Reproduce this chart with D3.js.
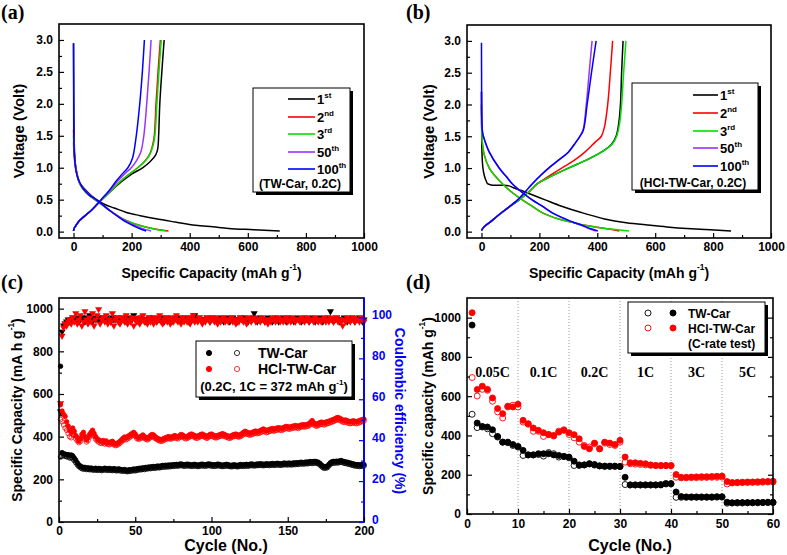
<!DOCTYPE html>
<html><head><meta charset="utf-8">
<script src="https://cdn.jsdelivr.net/npm/d3@7"></script>
<style>body{margin:0;background:#fff}svg{display:block}</style>
</head><body>
<svg id="chart" width="787" height="555"></svg>
<script>
// ---------------- DATA ----------------
// Panel (a): TW-Car galvanostatic curves [capacity mAh/g, voltage V]
const cycleNames = ["1","2","3","50","100"];
const cycleSup = ["st","nd","rd","th","th"];
const cycleColors = ["#000000","#ff0000","#00e000","#9933ff","#0000ff"];

const aDis1 = [[0,2.95],[0.5,2.5],[1,2.0],[2,1.5],[4,1.2],[8,1.0],[15,0.85],[22,0.76],[40,0.66],[65,0.55],[90,0.47],[110,0.42],[140,0.37],[182,0.3],[230,0.25],[284,0.2],[350,0.15],[420,0.1],[480,0.075],[534,0.05],[620,0.03],[710,0.01]];
const aDis2 = [[0,1.6],[2,1.3],[5,1.1],[10,0.95],[17,0.8],[30,0.68],[50,0.58],[74,0.5],[95,0.43],[125,0.33],[170,0.2],[200,0.14],[227,0.1],[260,0.06],[295,0.03],[327,0.01]];
const aDis3 = [[0,1.5],[2,1.25],[5,1.08],[10,0.94],[17,0.8],[30,0.68],[50,0.58],[74,0.5],[95,0.43],[125,0.33],[170,0.2],[200,0.14],[225,0.1],[258,0.06],[290,0.03],[318,0.01]];
const aDis50 = [[0,1.4],[2,1.2],[5,1.05],[10,0.92],[18,0.8],[30,0.7],[50,0.6],[76,0.5],[97,0.43],[125,0.33],[160,0.22],[190,0.14],[210,0.1],[235,0.05],[267,0.01]];
const aDis100 = [[0,2.95],[0.5,2.0],[1,1.5],[3,1.2],[7,1.0],[12,0.88],[20,0.78],[32,0.68],[52,0.58],[78,0.5],[98,0.43],[125,0.33],[158,0.22],[185,0.14],[203,0.1],[225,0.05],[250,0.01]];
const aCha1 = [[0,0.01],[2,0.05],[9,0.1],[20,0.17],[40,0.25],[65,0.35],[97,0.5],[130,0.64],[165,0.78],[200,0.9],[239,1.0],[265,1.1],[283,1.2],[290,1.3],[293,1.5],[297,2.0],[304,2.5],[312,3.0]];
const aCha2 = [[0,0.01],[2,0.05],[9,0.1],[20,0.17],[40,0.25],[65,0.35],[97,0.5],[130,0.64],[160,0.78],[192,0.9],[221,1.0],[245,1.1],[261,1.2],[272,1.35],[278,1.5],[284,2.0],[291,2.5],[299,3.0]];
const aCha3 = [[0,0.01],[2,0.05],[9,0.1],[20,0.17],[40,0.25],[65,0.35],[97,0.5],[130,0.64],[160,0.78],[192,0.9],[221,1.0],[246,1.1],[262,1.2],[274,1.35],[280,1.5],[287,2.0],[294,2.5],[302,3.0]];
const aCha50 = [[0,0.01],[2,0.05],[9,0.1],[20,0.17],[40,0.25],[65,0.35],[95,0.5],[125,0.64],[150,0.78],[175,0.9],[199,1.0],[218,1.12],[232,1.25],[242,1.5],[252,2.0],[260,2.5],[267,3.0]];
const aCha100 = [[0,0.01],[2,0.05],[9,0.1],[20,0.17],[40,0.25],[65,0.35],[95,0.5],[122,0.64],[145,0.78],[167,0.9],[187,1.0],[203,1.15],[216,1.5],[228,2.0],[237,2.5],[244,3.0]];

// Panel (b): HCl-TW-Car galvanostatic curves
const bDis1 = [[0,2.2],[0.5,1.8],[1,1.4],[2,1.2],[5,1.0],[10,0.88],[16,0.8],[22,0.75],[40,0.73],[70,0.73],[95,0.72],[110,0.69],[135,0.65],[164,0.6],[220,0.5],[277,0.4],[345,0.3],[425,0.2],[500,0.14],[584,0.1],[650,0.07],[709,0.05],[790,0.03],[862,0.01]];
const bDis2 = [[0,2.0],[1,1.6],[3,1.4],[10,1.2],[27,1.0],[48,0.87],[73,0.75],[105,0.62],[141,0.5],[175,0.4],[209,0.3],[266,0.2],[310,0.15],[357,0.1],[400,0.07],[440,0.04],[476,0.01]];
const bDis3 = [[0,2.0],[1,1.6],[3,1.4],[10,1.2],[27,1.0],[48,0.87],[73,0.75],[105,0.62],[141,0.5],[175,0.4],[209,0.3],[266,0.2],[310,0.15],[357,0.1],[425,0.05],[470,0.03],[510,0.01]];
const bDis50 = [[0,2.2],[1,1.8],[4,1.55],[10,1.45],[27,1.25],[61,1.0],[85,0.87],[107,0.75],[140,0.62],[175,0.5],[210,0.4],[243,0.3],[289,0.2],[320,0.14],[345,0.1],[370,0.05],[395,0.01]];
const bDis100 = [[0,2.97],[0.5,2.2],[1,1.8],[4,1.55],[10,1.45],[27,1.25],[61,1.0],[85,0.87],[107,0.75],[140,0.62],[175,0.5],[210,0.4],[243,0.3],[289,0.2],[322,0.14],[348,0.1],[375,0.05],[402,0.01]];
const bCha1 = [[0,0.02],[10,0.08],[30,0.15],[56,0.25],[90,0.37],[130,0.5],[162,0.62],[192,0.75],[245,0.88],[300,1.0],[360,1.12],[414,1.25],[450,1.38],[465,1.5],[474,1.7],[480,2.0],[484,2.5],[489,3.0]];
const bCha2 = [[0,0.02],[10,0.08],[30,0.15],[56,0.25],[90,0.37],[130,0.5],[162,0.62],[192,0.75],[235,0.88],[277,1.0],[320,1.12],[357,1.25],[391,1.4],[414,1.5],[425,1.65],[436,2.0],[445,2.5],[453,3.0]];
const bCha3 = [[0,0.02],[10,0.08],[30,0.15],[56,0.25],[90,0.37],[130,0.5],[162,0.62],[192,0.75],[245,0.88],[300,1.0],[360,1.12],[414,1.25],[452,1.38],[467,1.5],[477,1.7],[484,2.0],[491,2.5],[499,3.0]];
const bCha50 = [[0,0.02],[10,0.08],[30,0.15],[56,0.25],[90,0.37],[125,0.5],[150,0.62],[175,0.75],[203,0.88],[232,1.0],[265,1.12],[300,1.25],[325,1.4],[340,1.5],[351,1.6],[362,2.0],[372,2.5],[382,3.0]];
const bCha100 = [[0,0.02],[10,0.08],[30,0.15],[56,0.25],[90,0.37],[125,0.5],[150,0.62],[175,0.75],[203,0.88],[232,1.0],[265,1.12],[300,1.25],[325,1.4],[340,1.5],[352,1.6],[365,2.0],[380,2.5],[396,3.0]];

// Panel (c): cycling at 0.2C, cycles 1..200
const twDis = [730,325,320,318,315,316,312,314,310,300, 290,278,268,262,258,255,256,252,254,251, 253,250,249,252,248,251,250,247,249,252, 250,248,251,249,247,250,248,246,249,247, 245,244,246,243,242,245,244,246,248,247, 249,250,252,251,254,253,256,255,258,257, 259,260,258,261,262,260,263,265,264,266, 265,267,266,268,267,269,270,268,271,272, 270,268,269,271,270,268,267,269,270,268, 266,268,270,271,269,268,270,272,271,269, 268,267,269,271,270,268,266,267,269,270, 268,266,265,267,268,266,265,267,269,268, 267,269,270,268,270,272,271,269,270,272, 271,273,272,270,271,273,272,271,273,274, 272,273,275,274,272,273,275,276,274,275, 276,274,275,277,276,278,277,279,280,278, 279,281,280,282,283,281,283,284,282,280, 275,268,262,258,260,262,270,278,282,284, 283,285,284,286,288,285,283,281,280,278, 276,274,272,270,268,269,267,268,270,269];
const twCha = [305,310,312,308,306,305,300,302,296,288, 278,268,260,255,250,248,249,246,247,245, 246,244,243,245,242,244,243,241,243,245, 243,242,244,242,241,243,241,240,242,240, 239,238,240,237,236,238,238,240,241,240, 242,244,245,245,247,246,249,249,251,250, 252,253,252,254,255,254,256,258,257,259, 258,260,259,261,261,262,263,262,264,265, 263,262,262,264,263,262,261,262,263,262, 260,261,263,264,262,262,263,265,264,262, 262,261,262,264,263,262,260,261,262,263, 262,260,259,260,262,260,259,260,262,262, 261,262,263,262,263,265,264,263,264,265, 265,266,265,264,265,266,266,265,266,267, 266,266,268,267,266,266,268,269,268,268, 269,268,268,270,269,271,270,272,273,272, 272,274,273,275,276,274,276,277,275,273, 268,261,255,252,253,255,263,271,275,277, 276,278,277,279,281,278,276,274,273,271, 269,267,265,263,262,262,260,261,263,262];
const hDis = [550,520,505,495,470,450,430,420,440,425, 405,395,380,390,410,420,400,385,395,410, 420,430,415,400,390,385,380,378,382,375, 380,372,370,375,378,370,365,368,372,378, 385,392,398,395,400,405,410,415,420,412, 400,395,398,402,408,400,395,392,398,405, 410,408,400,395,390,388,385,388,392,395, 398,400,396,398,402,405,400,398,404,410, 408,402,398,400,405,410,412,408,405,400, 402,406,410,412,408,404,400,405,410,412, 408,404,402,405,408,410,414,412,408,405, 402,400,404,408,410,412,408,406,410,414, 420,425,422,418,415,418,420,424,426,422, 425,428,432,436,432,428,430,434,436,438, 435,438,440,442,440,438,442,445,448,446, 444,446,448,450,452,450,448,452,455,456, 454,456,458,460,468,475,465,460,458,462, 465,468,466,464,468,470,472,475,478,480, 484,488,490,486,482,478,476,478,474,472, 470,472,474,472,470,472,475,478,480,482];
const hCha = [480,470,455,440,430,415,400,395,410,405, 390,380,372,378,395,405,388,375,382,398, 408,415,402,388,380,375,370,368,372,366, 370,364,362,366,368,362,358,360,364,370, 376,382,388,386,390,395,400,405,410,402, 392,388,390,394,398,392,388,385,390,396, 400,398,392,388,383,380,378,380,384,388, 390,392,389,390,394,396,392,390,396,400, 399,394,390,392,396,400,403,400,397,392, 394,398,401,403,400,396,392,397,401,403, 400,396,394,397,400,402,405,403,400,397, 394,392,396,400,401,403,400,398,401,405, 410,415,413,410,407,409,411,415,417,414, 416,419,422,426,423,419,421,425,427,429, 426,429,431,433,431,429,433,436,439,437, 435,437,439,441,443,441,439,443,446,447, 445,447,449,451,458,464,456,451,449,453, 456,459,457,455,459,461,463,466,469,471, 475,478,480,477,473,469,467,469,465,463, 461,463,465,463,461,463,466,469,471,473];
const twCE = [54,93,96,97,98,99,98,99,100,99, 99,100,98,99,100,99,98,100,99,101, 99,98,100,99,99,100,98,99,100,99, 100,99,99,98,100,99,99,100,98,99, 99,100,99,98,99,100,99,99,101,99, 99,98,99,100,99,99,98,99,100,99, 99,100,99,98,99,99,100,99,98,99, 100,99,99,98,99,100,99,99,100,98, 99,99,100,99,98,99,100,99,101,99, 99,100,99,98,99,99,100,99,98,99, 100,99,99,98,99,100,99,98,99,100, 99,98,99,100,99,99,98,99,100,99, 99,100,99,98,99,99,100,102,99,98, 99,100,99,99,98,99,100,99,99,98, 99,100,99,98,99,99,100,99,98,99, 100,99,99,98,99,100,99,99,98,99, 100,99,99,98,99,100,99,98,99,99, 100,99,98,99,99,100,99,103,99,98, 99,100,99,98,99,99,100,99,98,99, 99,100,99,98,99,99,100,99,98,99];
const hCE = [58,91,95,97,96,98,99,97,100,98, 102,97,99,101,96,98,103,99,97,100, 98,102,96,99,101,104,97,99,100,98, 101,97,99,98,102,96,99,100,98,97, 100,99,98,101,97,99,98,100,96,99, 98,100,97,99,101,98,99,97,100,98, 99,97,100,98,99,101,98,97,99,100, 98,99,97,100,98,99,101,98,99,97, 100,98,99,98,100,97,99,101,98,99, 98,100,99,97,99,98,100,99,98,100, 99,98,100,97,99,98,99,100,98,99, 98,99,100,98,99,97,99,98,100,99, 98,99,97,100,99,98,99,100,98,99, 99,98,100,99,98,99,97,99,98,100, 99,98,99,100,98,99,98,99,100,98, 99,98,100,99,98,99,99,98,100,99, 98,99,100,98,99,99,98,100,99,98, 99,98,99,100,98,99,98,100,99,98, 99,100,98,99,98,96,99,98,100,99, 98,99,100,98,99,99,98,100,99,98];

// Panel (d): C-rate test, cycles 1..60
const rateLabels = ["0.05C","0.1C","0.2C","1C","3C","5C"];
const rateCenters = [5,15,25,35,45,55];
const dTwDis = [962,463,446,443,429,395,366,366,354,344, 324,301,301,307,307,307,301,298,293,290, 269,250,250,256,252,245,244,244,244,242, 187,148,148,148,148,148,148,148,155,155, 112,89,87,87,87,87,87,87,88,88, 60,57,58,58,58,58,59,59,60,60];
const dTwCha = [508,440,443,434,409,392,366,363,349,341, 298,301,301,303,295,313,307,290,293,286, 247,247,250,255,249,245,242,242,242,242, 150,148,148,148,148,148,148,150,153,153, 85,85,85,85,85,85,85,85,86,86, 55,56,56,56,57,57,57,58,58,58];
const dHDis = [1025,634,651,635,591,537,511,549,545,559, 477,460,438,426,414,405,400,417,426,414, 404,383,344,332,361,332,366,361,354,375, 290,261,261,258,256,250,247,247,247,247, 201,187,187,188,189,190,190,191,192,193, 165,160,161,162,163,163,164,165,166,167];
const dHCha = [695,601,635,630,574,520,489,545,554,545, 468,457,421,421,395,404,397,422,429,405, 388,366,349,341,358,332,361,354,349,366, 264,256,254,252,250,248,247,246,246,246, 187,184,184,185,185,186,186,187,187,188, 153,158,159,160,160,161,161,162,163,163];

// ---------------- DRAWING ----------------
const svg = d3.select("#chart");
const SANS = "'Liberation Sans', Arial, sans-serif";
const SERIF = "'Liberation Serif', 'Times New Roman', serif";
svg.append("rect").attr("width",787).attr("height",555).attr("fill","#fff");

function styleAxis(g, color, size) {
  g.select(".domain").remove();
  g.selectAll("line").attr("stroke", color).attr("stroke-width", 1.2);
  g.selectAll("text").attr("font-family", SANS).attr("font-weight","bold")
    .attr("font-size", size || 12).attr("fill", color);
}
function frame(L,T,R,B) {
  svg.append("rect").attr("x",L).attr("y",T).attr("width",R-L).attr("height",B-T)
    .attr("fill","none").attr("stroke","#000").attr("stroke-width",1.6);
}
function bottomAxis(x, B, major, minor, fmt, pad) {
  const g = svg.append("g").attr("transform",`translate(0,${B})`);
  g.call(d3.axisBottom(x).tickValues(major).tickSize(-5).tickPadding(pad||5).tickFormat(fmt));
  styleAxis(g,"#000");
  const m = svg.append("g").attr("transform",`translate(0,${B})`);
  m.call(d3.axisBottom(x).tickValues(minor).tickSize(-3).tickFormat(""));
  styleAxis(m,"#000");
}
function sideAxis(kind, y, X, major, minor, fmt, color, labels, dy, pad) {
  const mk = kind === "left" ? d3.axisLeft : d3.axisRight;
  const g = svg.append("g").attr("transform",`translate(${X},0)`);
  g.call(mk(y).tickValues(major).tickSize(-5).tickPadding(pad||6).tickFormat(fmt));
  styleAxis(g,color);
  if (labels === false) g.selectAll("text").remove();
  if (dy) g.selectAll("text").attr("dy", dy);
  const m = svg.append("g").attr("transform",`translate(${X},0)`);
  m.call(mk(y).tickValues(minor).tickSize(-3).tickFormat(""));
  styleAxis(m,color);
}
function vLabel(x, y, txt, size, color, rot, sup, tail) {
  const t = svg.append("text").attr("transform",`translate(${x},${y}) rotate(${rot})`)
    .attr("text-anchor","middle").attr("dominant-baseline","central")
    .attr("font-family",SANS).attr("font-weight","bold").attr("font-size",size).attr("fill",color);
  t.append("tspan").text(txt);
  if (sup) {
    t.append("tspan").attr("dy",-6).attr("font-size",size*0.6).text(sup);
    t.append("tspan").attr("dy",6).text(tail);
  }
  return t;
}
function hLabel(x, y, txt, size) {
  svg.append("text").attr("x",x).attr("y",y).attr("text-anchor","middle")
    .attr("font-family",SANS).attr("font-weight","bold").attr("font-size",size).text(txt);
}
function panelLabel(x, y, s) {
  svg.append("text").attr("x",x).attr("y",y).attr("font-family",SERIF).attr("font-weight","bold")
    .attr("font-size",20).text(s);
}
function shadowBox(x,y,w,h) {
  svg.append("rect").attr("x",x+3).attr("y",y+3).attr("width",w).attr("height",h).attr("fill","#000");
  svg.append("rect").attr("x",x).attr("y",y).attr("width",w).attr("height",h)
    .attr("fill","#fff").attr("stroke","#000").attr("stroke-width",1);
}
const lineGen = (x,y) => d3.line().x(d=>x(d[0])).y(d=>y(d[1])).curve(d3.curveCatmullRom.alpha(0.5));
const fmt1 = d3.format(".1f");

// ---- Voltage profile panels (a) & (b)
function voltagePanel(L,T,R,B, dis, cha, legend, note, label, lx) {
  const x = d3.scaleLinear().domain([-50,1000]).range([L,R]);
  const y = d3.scaleLinear().domain([-0.1,3.25]).range([B,T]);
  const lg = lineGen(x,y);
  dis.forEach((d,i)=>{
    svg.append("path").attr("d",lg(d)).attr("fill","none").attr("stroke",cycleColors[i]).attr("stroke-width",1.5);
    svg.append("path").attr("d",lg(cha[i])).attr("fill","none").attr("stroke",cycleColors[i]).attr("stroke-width",1.5);
  });
  frame(L,T,R,B);
  bottomAxis(x,B,d3.range(0,1001,200),d3.range(100,1000,200),d3.format("d"),4);
  sideAxis("left",y,L,d3.range(0,3.01,0.5),d3.range(0.25,3.0,0.5),fmt1,"#000");
  shadowBox(legend.x,legend.y,legend.w,legend.h);
  cycleNames.forEach((n,i)=>{
    const yy = legend.rows[i];
    svg.append("line").attr("x1",legend.l1).attr("x2",legend.l2).attr("y1",yy).attr("y2",yy)
      .attr("stroke",cycleColors[i]).attr("stroke-width",1.6);
    const t = svg.append("text").attr("x",legend.l2+2).attr("y",yy+5)
      .attr("font-family",SANS).attr("font-weight","bold").attr("font-size",13);
    t.append("tspan").text(n);
    t.append("tspan").attr("dy",-6).attr("font-size",8).text(cycleSup[i]);
  });
  svg.append("text").attr("x",legend.nx).attr("y",legend.ny).attr("text-anchor","middle")
    .attr("font-family",SANS).attr("font-weight","bold").attr("font-size",12).text(note);
  vLabel(lx, (T+B)/2, "Voltage (Volt)", 15, "#000", -90);
  vLabel((L+R)/2, 273, "Specific Capacity (mAh g", 14, "#000", 0, "-1", ")");
  panelLabel(label.x, label.y, label.s);
}
voltagePanel(59,24,364,238,
  [aDis1,aDis2,aDis3,aDis50,aDis100],[aCha1,aCha2,aCha3,aCha50,aCha100],
  {x:253,y:88,w:97,h:104,l1:288,l2:315,rows:[99,117,134,152,169],nx:300,ny:188},
  "(TW-Car, 0.2C)",{x:1,y:19,s:"(a)"},18);
voltagePanel(467,25,771,238,
  [bDis1,bDis2,bDis3,bDis50,bDis100],[bCha1,bCha2,bCha3,bCha50,bCha100],
  {x:632,y:83,w:126,h:107,l1:693,l2:718,rows:[95,113,131,148,166],nx:693,ny:187},
  "(HCl-TW-Car, 0.2C)",{x:406,y:19,s:"(b)"},428);

// ---- Panel (c)
(function(){
  const L=59,T=298,R=364,B=522;
  const cycles = d3.range(1,201);
  const x = d3.scaleLinear().domain([0,200]).range([L,R]);
  const y = d3.scaleLinear().domain([0,1050]).range([B,T]);
  const y2 = d3.scaleLinear().domain([0,109.5]).range([B,T]);
  const tri = d3.symbol().type(d3.symbolTriangle).size(22);
  function ce(arr,color){
    svg.append("g").selectAll("path").data(arr).join("path")
      .attr("d",tri).attr("transform",(d,i)=>`translate(${x(cycles[i])},${y2(d)}) rotate(180)`)
      .attr("fill",color);
  }
  function pts(arr,color,filled){
    svg.append("g").selectAll("circle").data(arr).join("circle")
      .attr("cx",(d,i)=>x(cycles[i])).attr("cy",d=>y(d)).attr("r",2.3)
      .attr("fill",filled?color:"none").attr("stroke",color).attr("stroke-width",0.8);
  }
  ce(twCE,"#000"); ce(hCE,"#ff0000");
  pts(twCha,"#000",false); pts(twDis,"#000",true);
  pts(hCha,"#ff0000",false); pts(hDis,"#ff0000",true);
  frame(L,T,R,B);
  svg.append("line").attr("x1",R).attr("x2",R).attr("y1",T).attr("y2",B).attr("stroke","#0000ff").attr("stroke-width",1.8);
  bottomAxis(x,B,d3.range(0,201,50),d3.range(25,200,50),d3.format("d"),4);
  sideAxis("left",y,L,d3.range(0,1001,200),d3.range(100,1001,200),d3.format("d"),"#000");
  sideAxis("right",y2,R,d3.range(0,101,20),d3.range(10,101,20),d3.format("d"),"#0000ff",true,"0.1em",8);
  shadowBox(196,341,156,56);
  [["TW-Car","#000",353],["HCl-TW-Car","#ff0000",369]].forEach(r=>{
    svg.append("circle").attr("cx",209).attr("cy",r[2]).attr("r",2.6).attr("fill",r[1]).attr("stroke",r[1]);
    svg.append("circle").attr("cx",237).attr("cy",r[2]).attr("r",2.6).attr("fill","none").attr("stroke",r[1]).attr("stroke-width",0.8);
    svg.append("text").attr("x",258).attr("y",r[2]+5).attr("font-family",SANS).attr("font-weight","bold")
      .attr("font-size",14).text(r[0]);
  });
  const t = svg.append("text").attr("x",274).attr("y",391).attr("text-anchor","middle")
    .attr("font-family",SANS).attr("font-weight","bold").attr("font-size",13);
  t.append("tspan").text("(0.2C, 1C = 372 mAh g");
  t.append("tspan").attr("dy",-6).attr("font-size",8).text("-1");
  t.append("tspan").attr("dy",6).text(")");
  vLabel(17,410,"Specific Capacity (mA h g",14,"#000",-90,"-1",")");
  vLabel(400,411,"Coulombic efficiency (%)",14,"#0000ff",90);
  hLabel(226,551,"Cycle (No.)",16);
  panelLabel(1,289,"(c)");
})();

// ---- Panel (d)
(function(){
  const L=467,T=298,R=773,B=514;
  const cycles = d3.range(1,61);
  const x = d3.scaleLinear().domain([0,60]).range([L,R]);
  const y = d3.scaleLinear().domain([0,1100]).range([B,T]);
  svg.append("g").selectAll("line").data([10,20,30,40,50]).join("line")
    .attr("x1",d=>x(d)).attr("x2",d=>x(d)).attr("y1",T).attr("y2",B)
    .attr("stroke","#999").attr("stroke-width",1).attr("stroke-dasharray","1,2");
  function pts(arr,color,filled){
    svg.append("g").selectAll("circle").data(arr).join("circle")
      .attr("cx",(d,i)=>x(cycles[i])).attr("cy",d=>y(d)).attr("r",3)
      .attr("fill",filled?color:"#fff").attr("stroke",color).attr("stroke-width",0.9);
  }
  pts(dTwCha,"#000",false); pts(dTwDis,"#000",true);
  pts(dHCha,"#ff0000",false); pts(dHDis,"#ff0000",true);
  svg.append("g").selectAll("text").data(rateLabels).join("text")
    .attr("x",(d,i)=>x(rateCenters[i])).attr("y",377).attr("text-anchor","middle")
    .attr("font-family",SERIF).attr("font-weight","bold").attr("font-size",14).text(d=>d);
  frame(L,T,R,B);
  bottomAxis(x,B,d3.range(0,61,10),d3.range(5,60,10),d3.format("d"),5);
  sideAxis("left",y,L,d3.range(0,1001,200),d3.range(100,1100,200),d3.format("d"),"#000");
  sideAxis("right",y,R,d3.range(0,1001,200),d3.range(100,1100,200),d3.format("d"),"#000",false);
  shadowBox(628,302,137,51);
  [["TW-Car","#000",313],["HCl-TW-Car","#ff0000",328]].forEach(r=>{
    svg.append("circle").attr("cx",648).attr("cy",r[2]).attr("r",3).attr("fill","none").attr("stroke",r[1]).attr("stroke-width",0.9);
    svg.append("circle").attr("cx",673).attr("cy",r[2]).attr("r",3).attr("fill",r[1]).attr("stroke",r[1]);
    svg.append("text").attr("x",688).attr("y",r[2]+5).attr("font-family",SANS).attr("font-weight","bold")
      .attr("font-size",12).text(r[0]);
  });
  svg.append("text").attr("x",688).attr("y",348).attr("font-family",SANS).attr("font-weight","bold")
    .attr("font-size",12).text("(C-rate test)");
  vLabel(428,406,"Specific capacity (mAh g",14,"#000",-90,"-1",")");
  hLabel(630,551,"Cycle (No.)",16);
  panelLabel(406,289,"(d)");
})();
</script>
</body></html>
